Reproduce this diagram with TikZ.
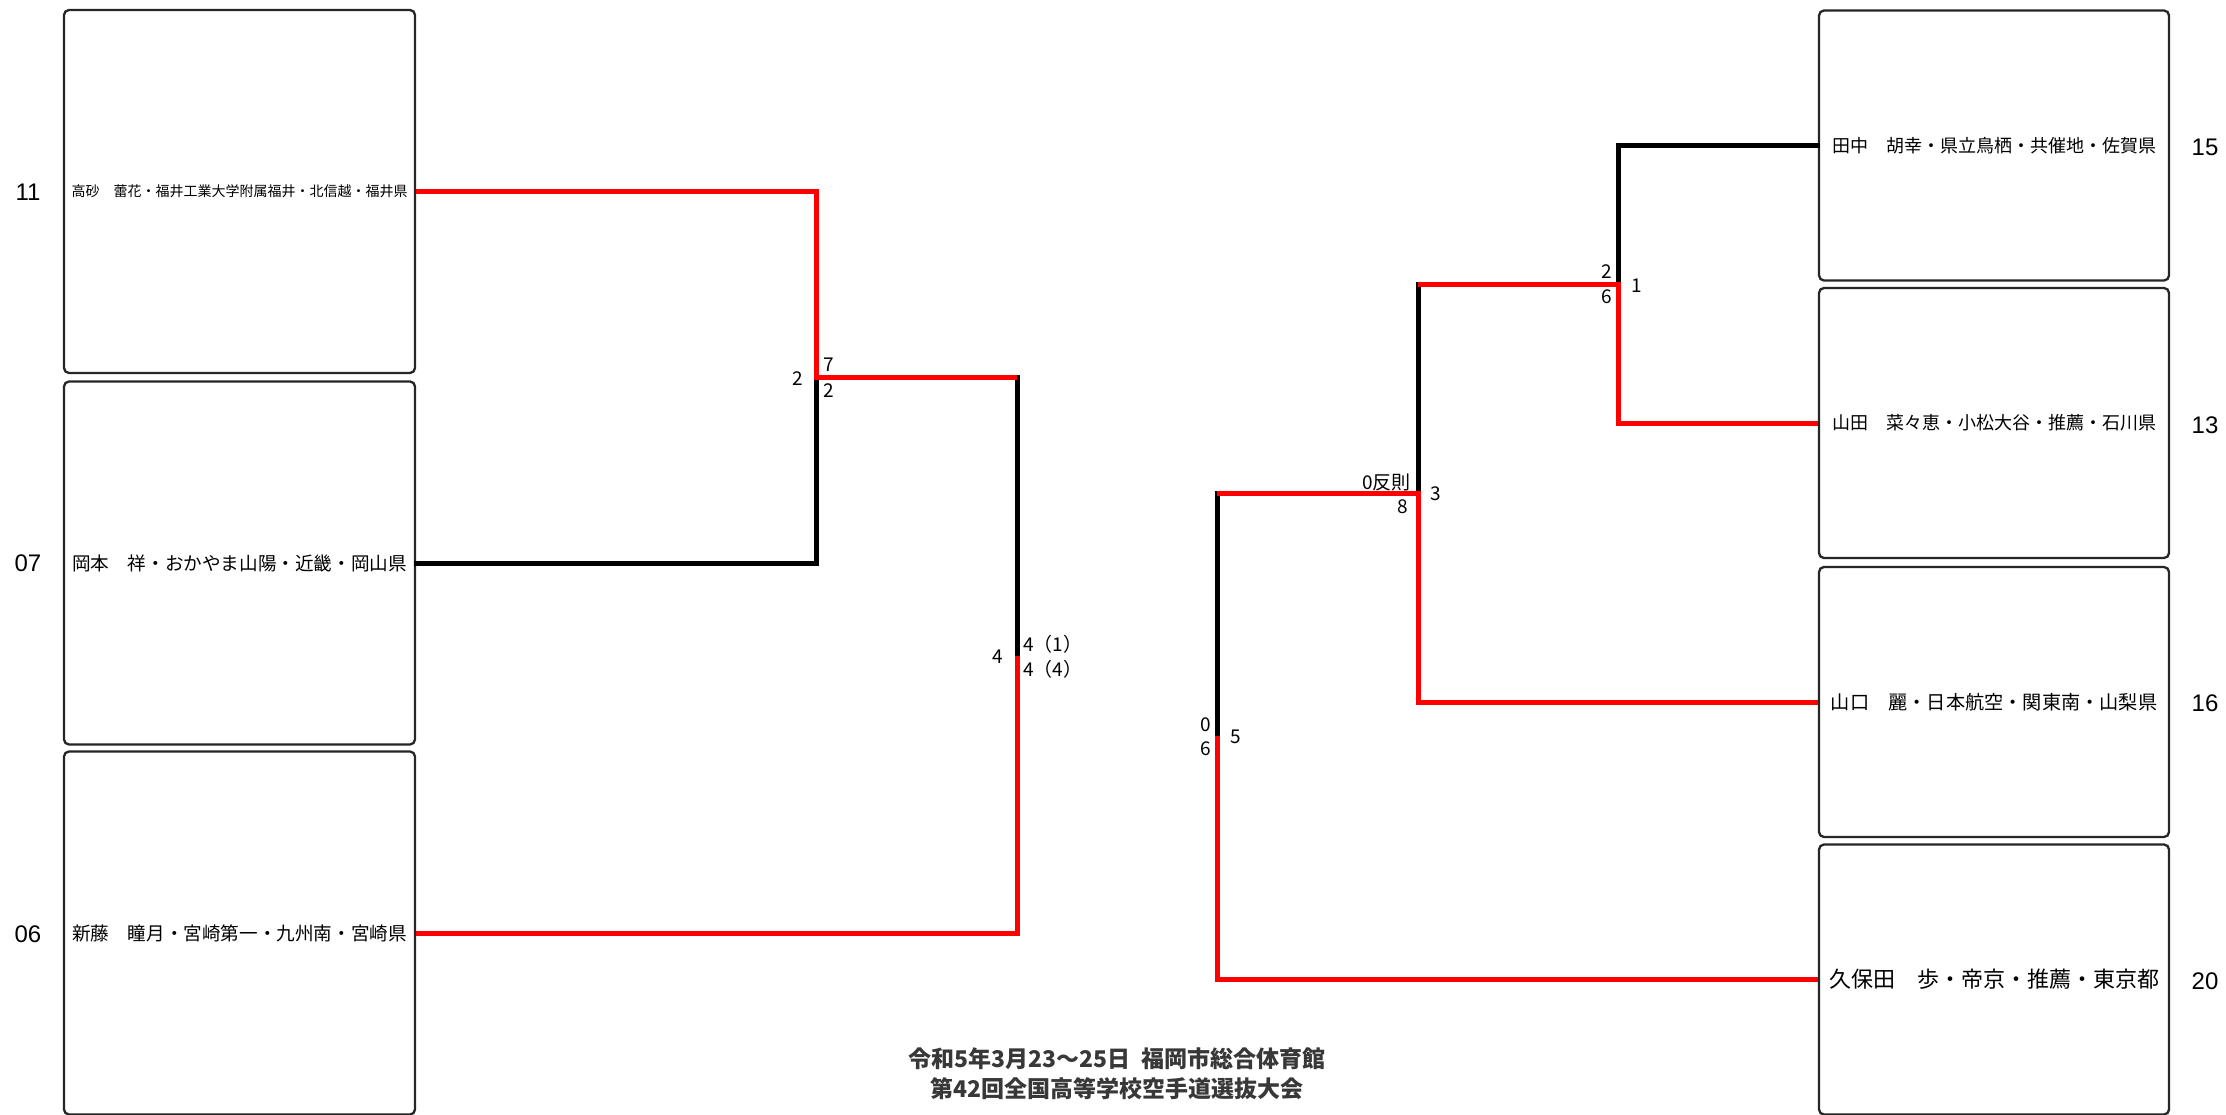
\documentclass[tikz,border=0pt]{standalone}
\usepackage{fontspec}
\setmainfont{Noto Sans CJK JP}
\newfontfamily\cjk{Noto Sans CJK JP}
\newfontfamily\latin{Liberation Sans}
\usetikzlibrary{calc}
\definecolor{winred}{HTML}{FF0000}
\begin{document}
\begin{tikzpicture}[x=1pt,y=-1pt,
  entry/.style={draw=black!85, line width=2.3pt, rounded corners=5pt, inner sep=0pt, fill=white},
  lbox/.style={entry, minimum width=351pt, minimum height=363pt},
  rbox/.style={entry, minimum width=350pt, minimum height=270pt},
  seed/.style={font=\latin\fontsize{24}{24}\selectfont, inner sep=0pt},
  score/.style={font=\cjk\fontsize{19}{19}\selectfont, inner sep=0pt},
  winline/.style={draw=winred, line width=5pt},
  loseline/.style={draw=black, line width=5pt, line cap=rect}]
\useasboundingbox (0,0) rectangle (2226,1115);
\fill[white] (0,0) rectangle (2226,1115);

% left entries
\node[lbox] (b11) at (239.5,191.5) {\fontsize{14}{14}\selectfont 高砂　蕾花・福井工業大学附属福井・北信越・福井県};
\node[lbox] (b07) at (239.5,563) {\fontsize{18.6}{18.6}\selectfont 岡本　祥・おかやま山陽・近畿・岡山県};
\node[lbox] (b06) at (239.5,933) {\fontsize{18.6}{18.6}\selectfont 新藤　瞳月・宮崎第一・九州南・宮崎県};
\node[seed] (n11) at (28,192) {11};
\node[seed] (n07) at (28,563) {07};
\node[seed] (n06) at (28,934) {06};

% right entries
\node[rbox] (b15) at (1994,145.5) {\fontsize{18}{18}\selectfont 田中　胡幸・県立鳥栖・共催地・佐賀県};
\node[rbox] (b13) at (1994,423) {\fontsize{18}{18}\selectfont 山田　菜々恵・小松大谷・推薦・石川県};
\node[rbox] (b16) at (1994,702) {\fontsize{19.2}{19.2}\selectfont 山口　麗・日本航空・関東南・山梨県};
\node[rbox] (b20) at (1994,979.5) {\fontsize{22}{22}\selectfont 久保田　歩・帝京・推薦・東京都};
\node[seed] (n15) at (2205,147) {15};
\node[seed] (n13) at (2205,425) {13};
\node[seed] (n16) at (2205,703) {16};
\node[seed] (n20) at (2205,981) {20};

% junctions
\coordinate (m1) at (816,377);
\coordinate (m2) at (1017,656);
\coordinate (r1) at (1618,284.5);
\coordinate (r2) at (1418,493);
\coordinate (r3) at (1217,736);

% losers (black)
\draw[loseline] (b07.east) -| (m1);
\draw[loseline] (m1 -| m2) -- (m2);
\draw[loseline] (b15.west) -| (r1);
\draw[loseline] (r1 -| r2) -- (r2);
\draw[loseline] (r2 -| r3) -- (r3);

% winners (red)
\draw[winline] (b11.east) -| (m1) -- (m1 -| m2);
\draw[winline] (b06.east) -| (m2);
\draw[winline] (b13.west) -| (r1) -- (r1 -| r2);
\draw[winline] (b16.west) -| (r2) -- (r2 -| r3);
\draw[winline] (b20.west) -| (r3);

% scores
\node[score, anchor=west] (s1a) at ($(m1)+(7,-12)$) {7};
\node[score, anchor=west] (s1b) at ($(m1)+(7,14)$) {2};
\node[score, anchor=east] (s1c) at ($(m1)+(-13,2)$) {2};
\node[score, anchor=west] (s2a) at ($(m2)+(6,-12)$) {4（1）};
\node[score, anchor=west] (s2b) at ($(m2)+(6,13)$) {4（4）};
\node[score, anchor=east] (s2c) at ($(m2)+(-14,1)$) {4};
\node[score, anchor=east] (s3a) at ($(r1)+(-6,-12.5)$) {2};
\node[score, anchor=east] (s3b) at ($(r1)+(-6,12.5)$) {6};
\node[score, anchor=west] (s3c) at ($(r1)+(13,1)$) {1};
\node[score, anchor=east] (s4a) at ($(r2)+(-7,-11)$) {0反則};
\node[score, anchor=east] (s4b) at ($(r2)+(-10,14)$) {8};
\node[score, anchor=west] (s4c) at ($(r2)+(12,1)$) {3};
\node[score, anchor=east] (s5a) at ($(r3)+(-6,-11)$) {0};
\node[score, anchor=east] (s5b) at ($(r3)+(-6,13)$) {6};
\node[score, anchor=west] (s5c) at ($(r3)+(13,1)$) {5};

% title
\node[font=\cjk\bfseries\fontsize{23}{30}\selectfont, text=black!78, align=center, inner sep=0pt] (title) at (1117,1074)
  {令和5年3月23～25日\hspace{0.45em}福岡市総合体育館\\第42回全国高等学校空手道選抜大会};
\end{tikzpicture}
\end{document}
